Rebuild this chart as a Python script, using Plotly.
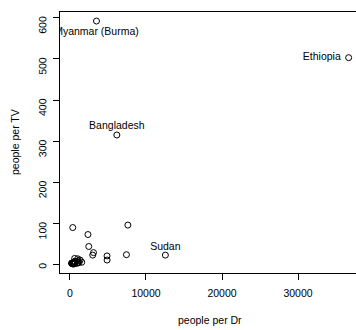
import plotly.graph_objects as go

countries = ["Argentina", "Bangladesh", "Brazil", "Canada", "China", "Colombia", "Egypt",
             "Ethiopia", "France", "Germany", "India", "Indonesia", "Iran", "Italy", "Japan",
             "Kenya", "Korea North", "Korea South", "Mexico", "Morocco", "Myanmar (Burma)",
             "Pakistan", "Peru", "Philippines", "Poland", "Romania", "Russia", "South Africa",
             "Spain", "Sudan", "Taiwan", "Thailand", "Turkey", "Ukraine", "UK", "US",
             "Venezuela", "Vietnam"]
people_per_tv = [4, 315, 4, 1.7, 8, 5.6, 15, 503, 2.6, 2.6, 44, 24, 23, 3.8, 1.8, 96, 90, 4.9,
                 6.6, 21, 592, 73, 14, 8.8, 3.9, 6, 3.2, 11, 2.6, 23, 3.2, 11, 5, 3, 3, 1.3,
                 5.6, 29]
people_per_dr = [370, 6166, 684, 449, 643, 1551, 616, 36660, 403, 346, 2471, 7427, 2992, 233,
                 609, 7615, 370, 1066, 600, 4873, 3485, 2364, 1016, 1062, 480, 559, 259, 1340,
                 275, 12550, 965, 4883, 1189, 226, 611, 404, 576, 3096]

labelled = ["Myanmar (Burma)", "Bangladesh", "Ethiopia", "Sudan"]
label_pos = ["bottom center", "top center", "middle left", "top center"]
label_gap = [8, 4, 11, 3]

x_ticks = [0, 10000, 20000, 30000]
y_ticks = [0, 100, 200, 300, 400, 500, 600]

FONT = "Liberation Sans, Arial, Helvetica, sans-serif"
FS = 10.5

fig = go.Figure()
fig.add_trace(go.Scatter(
    x=people_per_dr, y=people_per_tv, mode="markers",
    marker=dict(symbol="circle-open", size=6, color="black", line=dict(width=1, color="black")),
    hoverinfo="skip", showlegend=False))

lx = [people_per_dr[countries.index(c)] for c in labelled]
ly = [people_per_tv[countries.index(c)] for c in labelled]
fig.add_trace(go.Scatter(
    x=lx, y=ly, mode="markers+text", text=labelled, textposition=label_pos,
    marker=dict(size=label_gap, color="rgba(0,0,0,0)", line=dict(width=0)),
    textfont=dict(family=FONT, size=FS, color="black"),
    cliponaxis=True, hoverinfo="skip", showlegend=False))

fig.update_layout(
    width=356, height=330,
    margin=dict(l=59.5, r=0, t=11.5, b=56.5, pad=0),
    paper_bgcolor="white", plot_bgcolor="white",
    font=dict(family=FONT, size=FS, color="black"),
    xaxis=dict(range=[-1312, 37625], tickvals=x_ticks, ticktext=[str(v) for v in x_ticks],
               showgrid=False, zeroline=False, showline=True, mirror=True,
               linecolor="black", linewidth=1, ticks="outside", ticklen=6,
               tickcolor="black", tickwidth=1, ticklabelstandoff=4),
    yaxis=dict(range=[-20.5, 614], tickvals=y_ticks, ticktext=[str(v) for v in y_ticks],
               tickangle=-89.9,
               showgrid=False, zeroline=False, showline=True, mirror=False,
               linecolor="black", linewidth=1, ticks="outside", ticklen=6,
               tickcolor="black", tickwidth=1, ticklabelstandoff=10),
    annotations=[
        dict(text="people per Dr", xref="x", yref="paper", x=18400, y=0,
             yshift=-46.5, yanchor="middle", xanchor="center", showarrow=False,
             font=dict(family=FONT, size=FS, color="black")),
        dict(text="people per TV", xref="paper", yref="y", x=0, y=(614 - 20.5) / 2,
             xshift=-45.5, xanchor="center", yanchor="middle", textangle=-90,
             showarrow=False, font=dict(family=FONT, size=FS, color="black")),
    ],
)

fig.write_html("out.html")
